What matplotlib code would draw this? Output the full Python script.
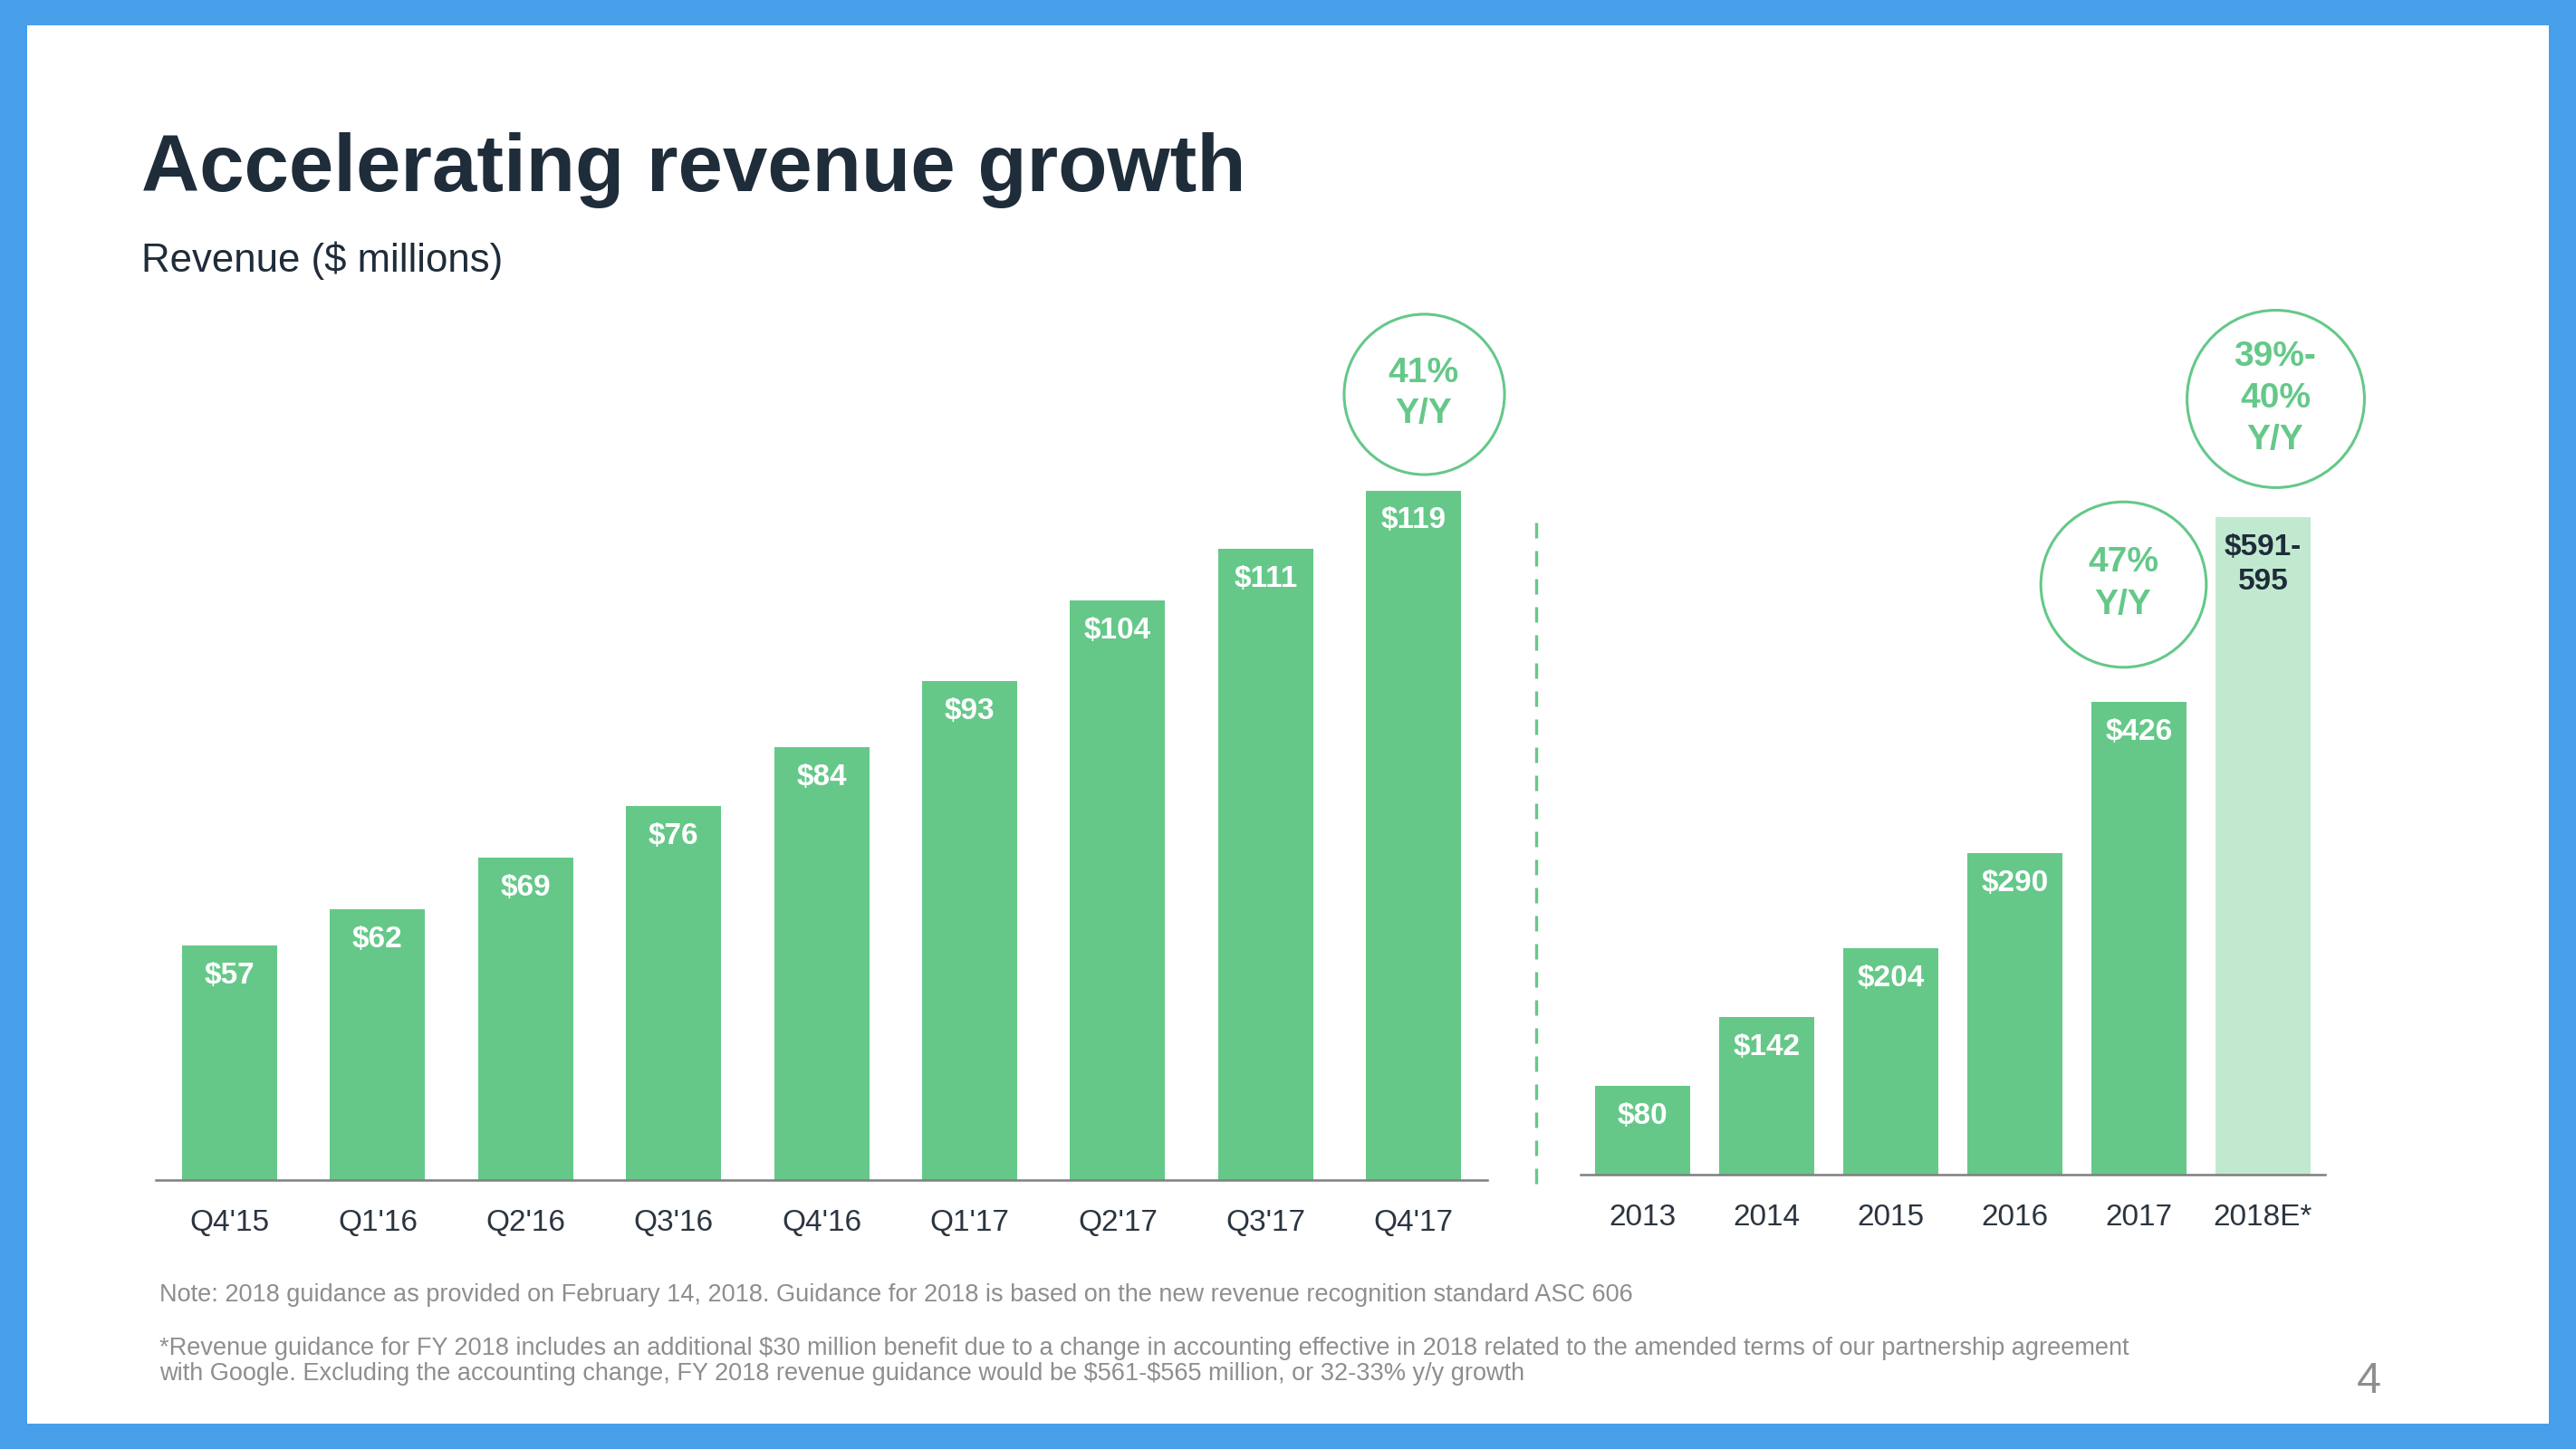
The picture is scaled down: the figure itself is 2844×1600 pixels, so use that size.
import matplotlib
matplotlib.use('Agg')
import numpy as np
from matplotlib import pyplot as plt
from matplotlib.patches import Rectangle
from matplotlib.lines import Line2D
from matplotlib.transforms import offset_copy

plt.rcParams['font.family'] = ['Liberation Sans', 'DejaVu Sans']

# === Données ===
quarters = ["Q4'15", "Q1'16", "Q2'16", "Q3'16", "Q4'16", "Q1'17", "Q2'17", "Q3'17", "Q4'17"]
q_revenue = [57, 62, 69, 76, 84, 93, 104, 111, 119]

years = ['2013', '2014', '2015', '2016', '2017', '2018E*']
y_revenue = [80, 142, 204, 290, 426, 593]       # 2018E = milieu de 591-595
y_labels = ['$80', '$142', '$204', '$290', '$426', '$591-\n595']
y_estimate = [False, False, False, False, False, True]

title = 'Accelerating revenue growth'
subtitle = 'Revenue ($ millions)'
note1 = ('Note: 2018 guidance as provided on February 14, 2018. Guidance for 2018 is based on '
         'the new revenue recognition standard ASC 606')
note2 = (r'*Revenue guidance for FY 2018 includes an additional \$30 million benefit due to a change in '
         'accounting effective in 2018 related to the amended terms of our partnership agreement\n'
         r'with Google. Excluding the accounting change, FY 2018 revenue guidance would be '
         r'\$561-\$565 million, or 32-33% y/y growth')

# === Style ===
W, H = 2844, 1600
blue = '#479FEA'
green = '#65C889'
light_green = '#C1E9CF'
dark = '#1F2C39'
grey_txt = '#8E8E8E'

fig = plt.figure(figsize=(W / 100, H / 100), dpi=100, facecolor=blue)
fig.add_artist(Rectangle((30 / W, 28 / H), 1 - 60 / W, 1 - 56 / H,
                         transform=fig.transFigure, facecolor='white',
                         edgecolor='none', zorder=-1))


def px_axes(x0, x1, y_top, y_bot):
    ax = fig.add_axes([x0 / W, 1 - y_bot / H, (x1 - x0) / W, (y_bot - y_top) / H])
    ax.set_facecolor('none')
    for s in ['top', 'left', 'right']:
        ax.spines[s].set_visible(False)
    ax.spines['bottom'].set_color('#7F7F7F')
    ax.spines['bottom'].set_linewidth(1.8)
    ax.set_yticks([])
    ax.tick_params(axis='x', length=0, pad=23, labelsize=24, labelcolor='#2B3540')
    return ax


def yoy_circle(ax, x, v, dx, dy, diam, text, spacing):
    trans = offset_copy(ax.transData, fig=fig, x=dx, y=dy, units='points')
    ax.plot([x], [v], 'o', ms=diam, mfc='none', mec=green, mew=2.2,
            transform=trans, clip_on=False)
    ax.annotate(text, xy=(x, v), xytext=(dx, dy), textcoords='offset points',
                ha='center', va='center', ma='center', color=green,
                fontsize=28, fontweight='bold', linespacing=spacing)


# === Graphique trimestriel ===
ax1 = px_axes(171.8, 1642.4, 300, 1303)
x1 = np.arange(len(quarters))
ax1.bar(x1, q_revenue, width=0.643, color=green)
ax1.set_xlim(-0.5, len(quarters) - 0.5)
ax1.set_ylim(25.1, 148.8)
ax1.set_xticks(x1, quarters)
for i, v in enumerate(q_revenue):
    ax1.annotate(f'${v}', xy=(i, v), xytext=(0, -24), textcoords='offset points',
                 ha='center', va='center', color='white', fontsize=24, fontweight='bold')
yoy_circle(ax1, x1[-1], q_revenue[-1], 8, 77, 127.5, '41%\nY/Y', 1.32)

# === Graphique annuel ===
ax2 = px_axes(1745, 2567, 300, 1297)
x2 = np.arange(len(years))
colors = [light_green if e else green for e in y_estimate]
ax2.bar(x2, y_revenue, width=0.766, color=colors)
ax2.set_xlim(-0.5, len(years) - 0.5)
ax2.set_ylim(0, 813.9)
ax2.set_xticks(x2, years)
for i, (v, lab) in enumerate(zip(y_revenue, y_labels)):
    if y_estimate[i]:
        ax2.annotate(lab, xy=(i, v), xytext=(0, -38), textcoords='offset points',
                     ha='center', va='center', color=dark, fontsize=24,
                     fontweight='bold', linespacing=1.3)
    else:
        ax2.annotate(lab, xy=(i, v), xytext=(0, -24), textcoords='offset points',
                     ha='center', va='center', color='white', fontsize=24,
                     fontweight='bold')
yoy_circle(ax2, x2[-2], y_revenue[-2], -12.6, 94, 131.5, '47%\nY/Y', 1.38)
yoy_circle(ax2, x2[-1], y_revenue[-1], 9.7, 94, 141, '39%-\n40%\nY/Y', 1.36)

# === Séparateur pointillé ===
fig.add_artist(Line2D([1696 / W] * 2, [1 - 577 / H, 1 - 1310 / H],
                      transform=fig.transFigure, color=green, lw=2.4,
                      dashes=(5.1, 4.2)))

# === Textes ===
fig.text(156 / W, 1 - 211 / H, title, fontsize=64, fontweight='bold',
         color=dark, va='baseline')
fig.text(156 / W, 1 - 300 / H, subtitle, fontsize=31.5, color=dark, va='baseline')
fig.text(176 / W, 1 - 1437 / H, note1, fontsize=19.5, color=grey_txt, va='baseline')
fig.text(176 / W, 1 - 1524 / H, note2, fontsize=19.5, color=grey_txt, va='baseline',
         linespacing=1.08)
fig.text(2615 / W, 1 - 1525 / H, '4', fontsize=35, color=grey_txt,
         ha='center', va='center')

fig.savefig('out.png', dpi=100, facecolor=blue)
